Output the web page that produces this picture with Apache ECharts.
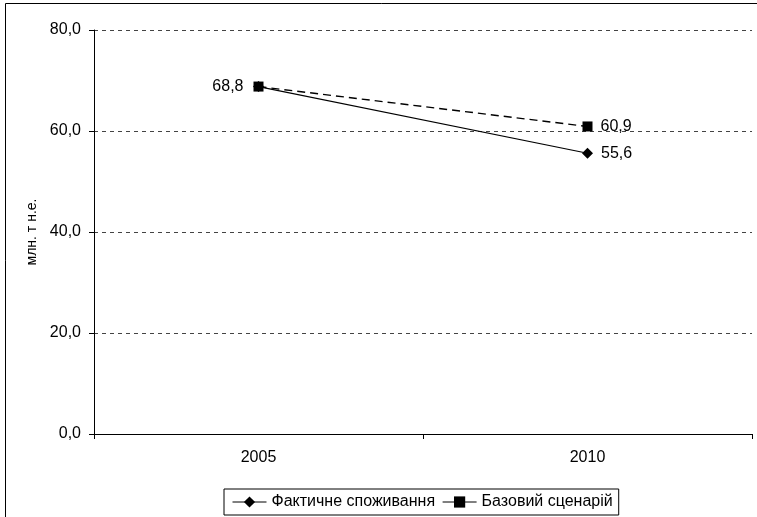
<!DOCTYPE html>
<html>
<head>
<meta charset="utf-8">
<script src="https://cdn.jsdelivr.net/npm/echarts@6/dist/echarts.min.js"></script>
<style>
  html, body { margin: 0; padding: 0; background: #fff; }
  #chart { width: 757px; height: 517px; }
</style>
</head>
<body>
<div id="chart"></div>
<script>
// Energy consumption, million tonnes of oil equivalent
const years = ['2005', '2010'];
const actualConsumption = [68.8, 55.6];
const baseScenario = [68.8, 60.9];
const yTicks = { min: 0, max: 80, interval: 20 };

const FONT = 'Liberation Sans, Arial, sans-serif';
const FS = 16;
const fmt = v => v.toFixed(1).replace('.', ',');

const chart = echarts.init(document.getElementById('chart'), null, { renderer: 'canvas' });

chart.setOption({
  animation: false,
  backgroundColor: '#ffffff',
  textStyle: { fontFamily: FONT, color: '#000' },
  graphic: [{
    type: 'rect',
    shape: { x: 5.5, y: 3.5, width: 760, height: 520 },
    style: { fill: 'none', stroke: '#000', lineWidth: 1 },
    silent: true,
    z: -1
  }],
  grid: { left: 94, right: 5, top: 30, bottom: 83, containLabel: false },
  legend: {
    bottom: 2,
    left: 224,
    itemGap: 7,
    itemWidth: 34,
    itemHeight: 14,
    padding: [5, 6, 5, 8],
    borderColor: '#000',
    borderWidth: 1,
    borderRadius: 0,
    lineStyle: { type: 'solid', width: 1 },
    textStyle: { fontFamily: FONT, fontSize: FS, color: '#000' },
    data: ['Фактичне споживання', 'Базовий сценарій']
  },
  xAxis: {
    type: 'category',
    data: years,
    boundaryGap: true,
    axisLine: { lineStyle: { color: '#000', width: 1 } },
    axisTick: { show: true, length: 5, inside: false, alignWithLabel: false, lineStyle: { color: '#000' } },
    axisLabel: { fontFamily: FONT, fontSize: FS, color: '#000', margin: 16 },
    splitLine: { show: false }
  },
  yAxis: {
    type: 'value',
    min: yTicks.min,
    max: yTicks.max,
    interval: yTicks.interval,
    name: 'млн. т н.е.',
    nameLocation: 'middle',
    nameGap: 54,
    nameRotate: 90,
    nameTextStyle: { fontFamily: FONT, fontSize: 14, color: '#000' },
    axisLine: { show: true, lineStyle: { color: '#000', width: 1 } },
    axisTick: { show: true, length: 5, lineStyle: { color: '#000' } },
    axisLabel: { fontFamily: FONT, fontSize: FS, color: '#000', margin: 13, formatter: v => fmt(v) },
    splitLine: { show: true, lineStyle: { color: '#444', type: [4, 4], width: 1 } }
  },
  series: [
    {
      name: 'Фактичне споживання',
      type: 'line',
      data: actualConsumption,
      symbol: 'diamond',
      symbolSize: 11,
      lineStyle: { color: '#000', width: 1.2, type: 'solid' },
      itemStyle: { color: '#000' },
      label: {
        show: true,
        position: 'right',
        distance: 8,
        fontFamily: FONT, fontSize: FS, color: '#000',
        formatter: p => p.dataIndex === 0 ? '' : fmt(p.value)
      },
      z: 3
    },
    {
      name: 'Базовий сценарій',
      type: 'line',
      data: baseScenario.map((v, i) => i === 0
        ? { value: v, label: { position: 'left', distance: 10 } }
        : { value: v }),
      symbol: 'rect',
      symbolSize: 10,
      lineStyle: { color: '#000', width: 1.4, type: [8, 5] },
      itemStyle: { color: '#000' },
      label: {
        show: true,
        position: 'right',
        distance: 8,
        fontFamily: FONT, fontSize: FS, color: '#000',
        formatter: p => fmt(p.value)
      },
      z: 4
    }
  ]
});
</script>
</body>
</html>
